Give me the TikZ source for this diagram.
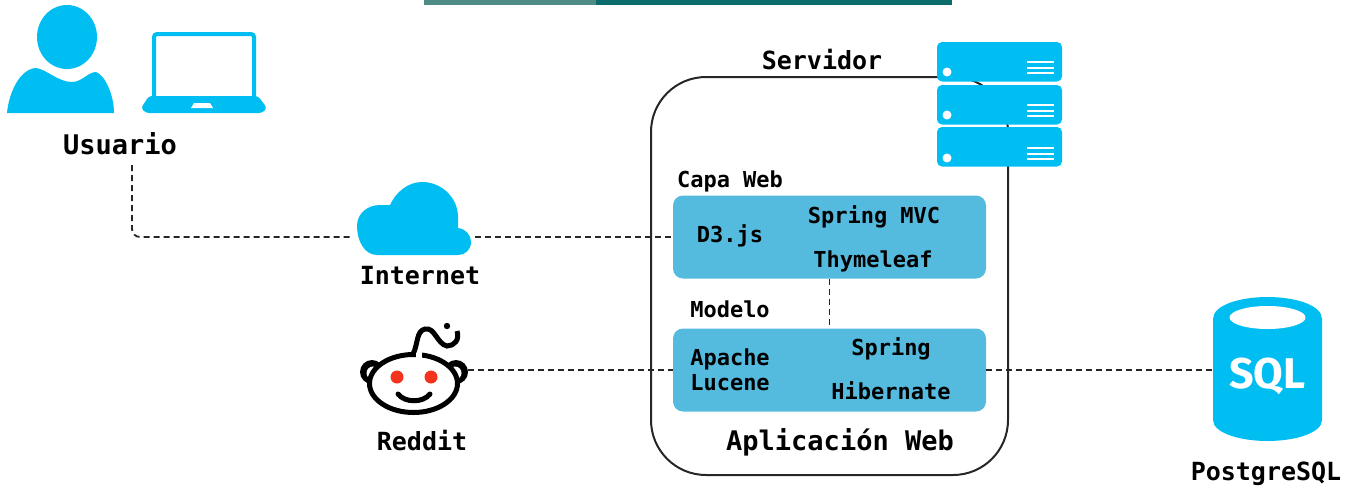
\documentclass[tikz,border=0pt]{standalone}
\usepackage{fontspec}
\setmonofont{DejaVu Sans Mono}
\setsansfont{Fira Sans}
\usepackage{xcolor}
\usetikzlibrary{positioning}
\definecolor{iconblue}{HTML}{00BEF2}
\definecolor{layerblue}{HTML}{54BBDF}
\definecolor{barteal}{HTML}{0C6B6B}
\definecolor{barlight}{HTML}{4F8C86}
\definecolor{eyered}{HTML}{F5321E}

\begin{document}
\begin{tikzpicture}[
    x=1pt, y=-1pt,
    title/.style={font=\ttfamily\bfseries\fontsize{27}{30}\selectfont, inner sep=0pt},
    label/.style={font=\ttfamily\bfseries\fontsize{25}{28}\selectfont, inner sep=0pt},
    small/.style={font=\ttfamily\bfseries\fontsize{22}{25}\selectfont, inner sep=0pt, align=center},
    layer/.style={rectangle, rounded corners=10pt, fill=layerblue, minimum width=313pt, minimum height=83pt, inner sep=0pt},
    icon/.style={inner sep=0pt},
    link/.style={black!85, line width=1.8pt, dash pattern=on 6pt off 4pt},
    rack/.style={fill=iconblue, rounded corners=5pt}
]
    \useasboundingbox (0,0) rectangle (1362,488);
    \fill[barlight] (424,0) rectangle (596,5);
    \fill[barteal] (596,0) rectangle (952,5);

    % frame of the application
    \node[draw=black!85, line width=2pt, rounded corners=55pt, minimum width=357pt, minimum height=398pt, inner sep=0pt] (servidor) at (829.5,276) {};

    \node[layer] (web) at (829.5,237) {};
    \node[layer] (modelo) at (829.5,370) {};
    \node[icon, minimum width=122pt, minimum height=30pt] (internet) at (414,237) {};
    \node[icon, minimum width=108pt, minimum height=30pt] (reddit) at (414,370) {};
    \node[icon, minimum width=108pt, minimum height=120pt] (sql) at (1267.5,370) {};
    \node[title] (usuario) at (120,144) {Usuario};
    \coordinate (usuariosalida) at (132,165);

    \draw[link, rounded corners=8pt] (usuariosalida) |- (internet);
    \draw[link] (internet) -- (web);
    \draw[link] (reddit) -- (modelo);
    \draw[link] (web) -- (modelo);
    \draw[link] (modelo) -- (sql);

    % user and laptop
    \fill[iconblue] (67,37) ellipse [x radius=30, y radius=32];
    \fill[iconblue] (7,113) .. controls (9,92) and (20,69) .. (36,68) .. controls (46,69) and (58,82) .. (72,82) .. controls (82,82) and (88,72) .. (96,72) .. controls (105,75) and (114,95) .. (114,113) -- cycle;
    \draw[iconblue, line width=4pt, rounded corners=3pt] (154,98) -- (154,34) -- (254,34) -- (254,98);
    \fill[iconblue, rounded corners=3pt] (149,96) -- (258,96) -- (267,108) -- (262,113) -- (146,113) -- (141,108) -- cycle;
    \fill[white] (194,103) -- (210,103) -- (213,108) -- (191,108) -- cycle;

    % cloud
    \fill[iconblue] (377,255) .. controls (364,255) and (357,240) .. (357,226) .. controls (357,213) and (368,205) .. (380,205) .. controls (384,205) and (387,205) .. (390,205) .. controls (396,192) and (408,182) .. (422,182) .. controls (442,182) and (458,198) .. (458,217) .. controls (458,221) and (458,225) .. (458,228) .. controls (466,229) and (471,235) .. (471,242) .. controls (471,250) and (465,255) .. (458,255) -- cycle;

    % reddit
    \fill[black] (372,372) circle [radius=12];
    \fill[black] (456,372) circle [radius=12];
    \fill[white] (373,373) circle [radius=6.5];
    \fill[white] (455,373) circle [radius=6.5];
    \draw[black, line width=5pt, fill=white] (413.5,383.5) ellipse [x radius=44, y radius=29];
    \draw[white, line width=7pt] (416,354) -- (422,354);
    \fill[eyered] (397,377) circle [radius=6.5];
    \fill[eyered] (431,377) circle [radius=6.5];
    \draw[black, line width=5pt, line cap=round] (398,394) .. controls (405,403) and (423,403) .. (430,394);
    \draw[black, line width=5pt] (413,354) .. controls (418,345) and (416,331) .. (425,329) .. controls (435,327) and (437,344) .. (447,346) .. controls (454,346) and (460,340) .. (457,331);
    \fill[black] (447,326) circle [radius=3.2];

    % server rack
    \foreach \ytop/\yline in {42/62, 85/105, 127/148} {
        \fill[rack] (937,\ytop) rectangle ++(125,39.5);
        \fill[white] (947,\yline+10) circle [radius=4.5];
        \draw[white, line width=2pt] (1027,\yline) -- (1054,\yline) (1027,\yline+5.5) -- (1054,\yline+5.5) (1027,\yline+11) -- (1054,\yline+11);
    }

    % database
    \fill[iconblue] (1213,319) .. controls (1213,305) and (1240,297) .. (1267.5,297) .. controls (1295,297) and (1322,305) .. (1322,319) -- (1322,420) .. controls (1322,433) and (1295,441) .. (1267.5,441) .. controls (1240,441) and (1213,433) .. (1213,420) -- cycle;
    \fill[white] (1267.5,317.5) ellipse [x radius=38, y radius=11.5];
    \node[text=white, font=\sffamily\bfseries\fontsize{43}{45}\selectfont, inner sep=0pt] (sqltexto) at (1267.5,376) {SQL};

    % labels
    \node[label] (internettexto) at (420,276) {Internet};
    \node[label] (reddittexto) at (422,441) {Reddit};
    \node[label] (servidortexto) at (822,60) {Servidor};
    \node[label] (postgres) at (1266,474) {PostgreSQL};
    \node[title] (aplicacion) at (840,442) {Aplicación Web};
    \node[small] (capaweb) at (730,181) {Capa Web};
    \node[small] (d3) at (730,236) {D3.js};
    \node[small] (mvc) at (874,217) {Spring MVC};
    \node[small] (thymeleaf) at (873,261) {Thymeleaf};
    \node[small] (modelotexto) at (730,309) {Modelo};
    \node[small] (lucene) at (730,370) {Apache\\Lucene};
    \node[small] (spring) at (891,349) {Spring};
    \node[small] (hibernate) at (891,391) {Hibernate};
\end{tikzpicture}
\end{document}
